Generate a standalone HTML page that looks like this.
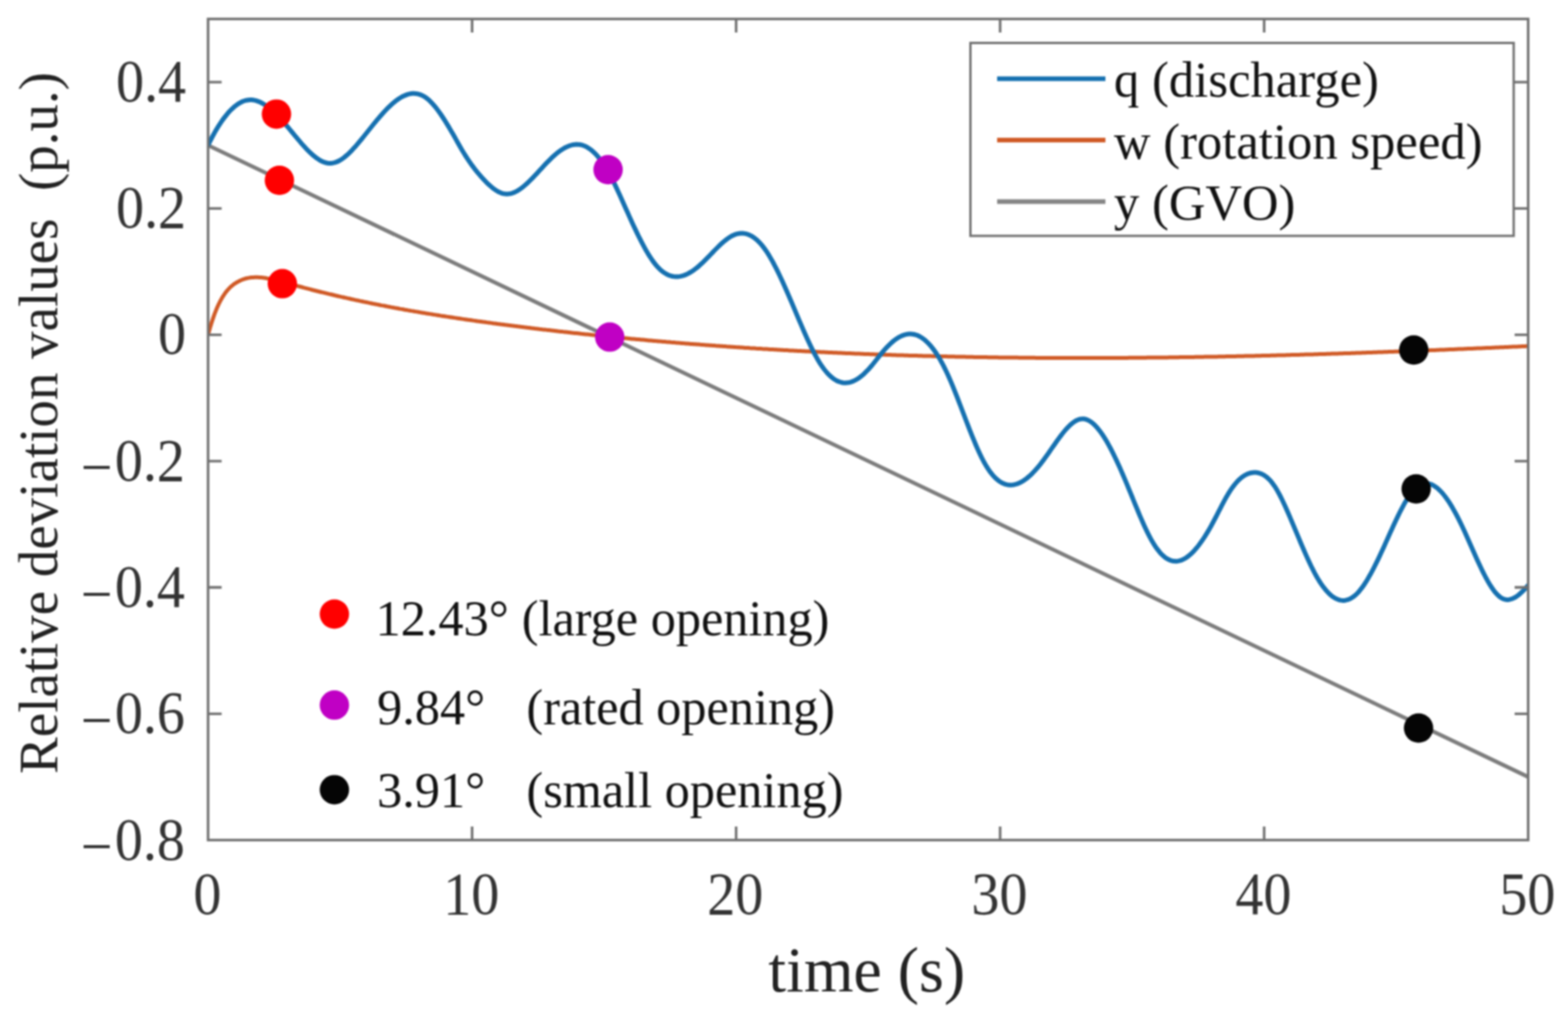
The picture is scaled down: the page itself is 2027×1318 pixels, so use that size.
<!DOCTYPE html><html><head><meta charset="utf-8"><style>html,body{margin:0;padding:0;background:#fff;}svg{display:block;filter:blur(1.1px);}text{font-family:"Liberation Serif","Times New Roman",serif;}</style></head><body>
<svg width="2027" height="1318" viewBox="0 0 2027 1318">
<rect x="0" y="0" width="2027" height="1318" fill="#fff"/>
<defs><clipPath id="ax"><rect x="269.0" y="24.5" width="1706.5" height="1061.0"/></clipPath></defs>
<g clip-path="url(#ax)" fill="none" stroke-linejoin="round" stroke-linecap="round">
<path d="M269.0,187.7 L1975.5,1003.9" stroke="#7d7d7d" stroke-width="5"/>
<path d="M269.3,431.5L271.3,424.3 273.3,417.7 275.3,411.6 277.3,405.9 279.3,400.8 281.3,396.1 283.3,391.8 285.3,387.9 287.3,384.4 289.3,381.3 291.3,378.4 293.3,375.9 295.3,373.6 297.3,371.5 299.3,369.7 301.3,368.1 303.3,366.6 305.3,365.3 307.3,364.2 309.3,363.1 311.3,362.2 313.3,361.3 315.3,360.6 317.3,360.0 319.3,359.5 321.3,359.1 323.3,358.8 325.3,358.5 327.3,358.4 329.3,358.3 331.3,358.2 333.3,358.3 335.3,358.4 337.3,358.6 339.3,358.8 341.3,359.0 343.3,359.3 345.3,359.7 347.3,360.0 349.3,360.4 351.3,360.9 353.3,361.3 355.3,361.8 357.3,362.3 359.3,362.8 361.3,363.3 363.3,363.9 365.3,364.4 367.3,364.9 369.3,365.5 371.3,366.0 373.3,366.5 375.3,367.1 377.3,367.6 379.3,368.2 381.3,368.7 383.3,369.2 385.3,369.8 387.3,370.3 389.3,370.8 391.3,371.3 393.3,371.9 395.3,372.4 397.3,372.9 399.3,373.4 401.3,373.9 403.3,374.5 405.3,375.0 407.3,375.5 409.3,376.0 411.3,376.5 413.3,377.0 415.3,377.5 417.3,377.9 419.3,378.4 421.3,378.9 423.3,379.4 425.3,379.9 427.3,380.3 429.3,380.8 431.3,381.3 433.3,381.8 435.3,382.2 437.3,382.7 439.3,383.1 441.3,383.6 443.3,384.0 445.3,384.5 447.3,384.9 449.3,385.4 451.3,385.8 453.3,386.3 455.3,386.7 457.3,387.1 459.3,387.6 461.3,388.0 463.3,388.4 465.3,388.9 467.3,389.3 469.3,389.7 471.3,390.1 473.3,390.5 475.3,390.9 477.3,391.4 479.3,391.8 481.3,392.2 483.3,392.6 485.3,393.0 487.3,393.4 489.3,393.8 491.3,394.2 493.3,394.6 495.3,394.9 497.3,395.3 499.3,395.7 501.3,396.1 503.3,396.5 505.3,396.9 507.3,397.2 509.3,397.6 511.3,398.0 513.3,398.3 515.3,398.7 517.3,399.1 519.3,399.4 521.3,399.8 523.3,400.2 525.3,400.5 527.3,400.9 529.3,401.2 531.3,401.6 533.3,401.9 535.3,402.3 537.3,402.6 539.3,402.9 541.3,403.3 543.3,403.6 545.3,404.0 547.3,404.3 549.3,404.6 551.3,405.0 553.3,405.3 555.3,405.6 557.3,405.9 559.3,406.3 561.3,406.6 563.3,406.9 565.3,407.2 567.3,407.5 569.3,407.9 571.3,408.2 573.3,408.5 575.3,408.8 577.3,409.1 579.3,409.4 581.3,409.7 583.3,410.0 585.3,410.3 587.3,410.6 589.3,410.9 591.3,411.2 593.3,411.5 595.3,411.8 597.3,412.1 599.3,412.4 601.3,412.7 603.3,413.0 605.3,413.3 607.3,413.5 609.3,413.8 611.3,414.1 613.3,414.4 615.3,414.7 617.3,415.0 619.3,415.2 621.3,415.5 623.3,415.8 625.3,416.1 627.3,416.3 629.3,416.6 631.3,416.9 633.3,417.1 635.3,417.4 637.3,417.7 639.3,417.9 641.3,418.2 643.3,418.5 645.3,418.7 647.3,419.0 649.3,419.2 651.3,419.5 653.3,419.8 655.3,420.0 657.3,420.3 659.3,420.5 661.3,420.8 663.3,421.0 665.3,421.3 667.3,421.5 669.3,421.8 671.3,422.0 673.3,422.3 675.3,422.5 677.3,422.8 679.3,423.0 681.3,423.3 683.3,423.5 685.3,423.7 687.3,424.0 689.3,424.2 691.3,424.5 693.3,424.7 695.3,424.9 697.3,425.2 699.3,425.4 701.3,425.7 703.3,425.9 705.3,426.1 707.3,426.4 709.3,426.6 711.3,426.8 713.3,427.1 715.3,427.3 717.3,427.5 719.3,427.7 721.3,428.0 723.3,428.2 725.3,428.4 727.3,428.6 729.3,428.9 731.3,429.1 733.3,429.3 735.3,429.5 737.3,429.7 739.3,430.0 741.3,430.2 743.3,430.4 745.3,430.6 747.3,430.8 749.3,431.0 751.3,431.3 753.3,431.5 755.3,431.7 757.3,431.9 759.3,432.1 761.3,432.3 763.3,432.5 765.3,432.7 767.3,432.9 769.3,433.1 771.3,433.4 773.3,433.6 775.3,433.8 777.3,434.0 779.3,434.2 781.3,434.4 783.3,434.6 785.3,434.8 787.3,435.0 789.3,435.2 791.3,435.4 793.3,435.6 795.3,435.8 797.3,435.9 799.3,436.1 801.3,436.3 803.3,436.5 805.3,436.7 807.3,436.9 809.3,437.1 811.3,437.3 813.3,437.5 815.3,437.7 817.3,437.9 819.3,438.0 821.3,438.2 823.3,438.4 825.3,438.6 827.3,438.8 829.3,439.0 831.3,439.1 833.3,439.3 835.3,439.5 837.3,439.7 839.3,439.9 841.3,440.0 843.3,440.2 845.3,440.4 847.3,440.6 849.3,440.7 851.3,440.9 853.3,441.1 855.3,441.2 857.3,441.4 859.3,441.6 861.3,441.8 863.3,441.9 865.3,442.1 867.3,442.3 869.3,442.4 871.3,442.6 873.3,442.8 875.3,442.9 877.3,443.1 879.3,443.2 881.3,443.4 883.3,443.6 885.3,443.7 887.3,443.9 889.3,444.0 891.3,444.2 893.3,444.4 895.3,444.5 897.3,444.7 899.3,444.8 901.3,445.0 903.3,445.1 905.3,445.3 907.3,445.4 909.3,445.6 911.3,445.7 913.3,445.9 915.3,446.0 917.3,446.2 919.3,446.3 921.3,446.5 923.3,446.6 925.3,446.8 927.3,446.9 929.3,447.0 931.3,447.2 933.3,447.3 935.3,447.5 937.3,447.6 939.3,447.8 941.3,447.9 943.3,448.0 945.3,448.2 947.3,448.3 949.3,448.4 951.3,448.6 953.3,448.7 955.3,448.8 957.3,449.0 959.3,449.1 961.3,449.2 963.3,449.4 965.3,449.5 967.3,449.6 969.3,449.8 971.3,449.9 973.3,450.0 975.3,450.1 977.3,450.3 979.3,450.4 981.3,450.5 983.3,450.6 985.3,450.8 987.3,450.9 989.3,451.0 991.3,451.1 993.3,451.2 995.3,451.4 997.3,451.5 999.3,451.6 1001.3,451.7 1003.3,451.8 1005.3,452.0 1007.3,452.1 1009.3,452.2 1011.3,452.3 1013.3,452.4 1015.3,452.5 1017.3,452.6 1019.3,452.7 1021.3,452.9 1023.3,453.0 1025.3,453.1 1027.3,453.2 1029.3,453.3 1031.3,453.4 1033.3,453.5 1035.3,453.6 1037.3,453.7 1039.3,453.8 1041.3,453.9 1043.3,454.0 1045.3,454.1 1047.3,454.2 1049.3,454.3 1051.3,454.4 1053.3,454.5 1055.3,454.6 1057.3,454.7 1059.3,454.8 1061.3,454.9 1063.3,455.0 1065.3,455.1 1067.3,455.2 1069.3,455.3 1071.3,455.4 1073.3,455.5 1075.3,455.6 1077.3,455.7 1079.3,455.8 1081.3,455.8 1083.3,455.9 1085.3,456.0 1087.3,456.1 1089.3,456.2 1091.3,456.3 1093.3,456.4 1095.3,456.5 1097.3,456.5 1099.3,456.6 1101.3,456.7 1103.3,456.8 1105.3,456.9 1107.3,457.0 1109.3,457.0 1111.3,457.1 1113.3,457.2 1115.3,457.3 1117.3,457.4 1119.3,457.4 1121.3,457.5 1123.3,457.6 1125.3,457.7 1127.3,457.7 1129.3,457.8 1131.3,457.9 1133.3,458.0 1135.3,458.0 1137.3,458.1 1139.3,458.2 1141.3,458.2 1143.3,458.3 1145.3,458.4 1147.3,458.5 1149.3,458.5 1151.3,458.6 1153.3,458.7 1155.3,458.7 1157.3,458.8 1159.3,458.9 1161.3,458.9 1163.3,459.0 1165.3,459.0 1167.3,459.1 1169.3,459.2 1171.3,459.2 1173.3,459.3 1175.3,459.4 1177.3,459.4 1179.3,459.5 1181.3,459.5 1183.3,459.6 1185.3,459.6 1187.3,459.7 1189.3,459.8 1191.3,459.8 1193.3,459.9 1195.3,459.9 1197.3,460.0 1199.3,460.0 1201.3,460.1 1203.3,460.1 1205.3,460.2 1207.3,460.2 1209.3,460.3 1211.3,460.3 1213.3,460.4 1215.3,460.4 1217.3,460.5 1219.3,460.5 1221.3,460.6 1223.3,460.6 1225.3,460.7 1227.3,460.7 1229.3,460.8 1231.3,460.8 1233.3,460.8 1235.3,460.9 1237.3,460.9 1239.3,461.0 1241.3,461.0 1243.3,461.1 1245.3,461.1 1247.3,461.1 1249.3,461.2 1251.3,461.2 1253.3,461.2 1255.3,461.3 1257.3,461.3 1259.3,461.4 1261.3,461.4 1263.3,461.4 1265.3,461.5 1267.3,461.5 1269.3,461.5 1271.3,461.6 1273.3,461.6 1275.3,461.6 1277.3,461.7 1279.3,461.7 1281.3,461.7 1283.3,461.7 1285.3,461.8 1287.3,461.8 1289.3,461.8 1291.3,461.9 1293.3,461.9 1295.3,461.9 1297.3,461.9 1299.3,462.0 1301.3,462.0 1303.3,462.0 1305.3,462.0 1307.3,462.1 1309.3,462.1 1311.3,462.1 1313.3,462.1 1315.3,462.1 1317.3,462.2 1319.3,462.2 1321.3,462.2 1323.3,462.2 1325.3,462.2 1327.3,462.3 1329.3,462.3 1331.3,462.3 1333.3,462.3 1335.3,462.3 1337.3,462.3 1339.3,462.4 1341.3,462.4 1343.3,462.4 1345.3,462.4 1347.3,462.4 1349.3,462.4 1351.3,462.4 1353.3,462.4 1355.3,462.5 1357.3,462.5 1359.3,462.5 1361.3,462.5 1363.3,462.5 1365.3,462.5 1367.3,462.5 1369.3,462.5 1371.3,462.5 1373.3,462.5 1375.3,462.5 1377.3,462.5 1379.3,462.5 1381.3,462.5 1383.3,462.6 1385.3,462.6 1387.3,462.6 1389.3,462.6 1391.3,462.6 1393.3,462.6 1395.3,462.6 1397.3,462.6 1399.3,462.6 1401.3,462.6 1403.3,462.6 1405.3,462.6 1407.3,462.6 1409.3,462.6 1411.3,462.6 1413.3,462.6 1415.3,462.5 1417.3,462.5 1419.3,462.5 1421.3,462.5 1423.3,462.5 1425.3,462.5 1427.3,462.5 1429.3,462.5 1431.3,462.5 1433.3,462.5 1435.3,462.5 1437.3,462.5 1439.3,462.5 1441.3,462.5 1443.3,462.4 1445.3,462.4 1447.3,462.4 1449.3,462.4 1451.3,462.4 1453.3,462.4 1455.3,462.4 1457.3,462.4 1459.3,462.3 1461.3,462.3 1463.3,462.3 1465.3,462.3 1467.3,462.3 1469.3,462.3 1471.3,462.3 1473.3,462.2 1475.3,462.2 1477.3,462.2 1479.3,462.2 1481.3,462.2 1483.3,462.1 1485.3,462.1 1487.3,462.1 1489.3,462.1 1491.3,462.1 1493.3,462.0 1495.3,462.0 1497.3,462.0 1499.3,462.0 1501.3,462.0 1503.3,461.9 1505.3,461.9 1507.3,461.9 1509.3,461.9 1511.3,461.8 1513.3,461.8 1515.3,461.8 1517.3,461.8 1519.3,461.7 1521.3,461.7 1523.3,461.7 1525.3,461.6 1527.3,461.6 1529.3,461.6 1531.3,461.6 1533.3,461.5 1535.3,461.5 1537.3,461.5 1539.3,461.4 1541.3,461.4 1543.3,461.4 1545.3,461.3 1547.3,461.3 1549.3,461.3 1551.3,461.2 1553.3,461.2 1555.3,461.2 1557.3,461.1 1559.3,461.1 1561.3,461.1 1563.3,461.0 1565.3,461.0 1567.3,461.0 1569.3,460.9 1571.3,460.9 1573.3,460.9 1575.3,460.8 1577.3,460.8 1579.3,460.7 1581.3,460.7 1583.3,460.7 1585.3,460.6 1587.3,460.6 1589.3,460.5 1591.3,460.5 1593.3,460.5 1595.3,460.4 1597.3,460.4 1599.3,460.3 1601.3,460.3 1603.3,460.3 1605.3,460.2 1607.3,460.2 1609.3,460.1 1611.3,460.1 1613.3,460.0 1615.3,460.0 1617.3,459.9 1619.3,459.9 1621.3,459.9 1623.3,459.8 1625.3,459.8 1627.3,459.7 1629.3,459.7 1631.3,459.6 1633.3,459.6 1635.3,459.5 1637.3,459.5 1639.3,459.4 1641.3,459.4 1643.3,459.3 1645.3,459.3 1647.3,459.2 1649.3,459.2 1651.3,459.1 1653.3,459.1 1655.3,459.0 1657.3,459.0 1659.3,458.9 1661.3,458.9 1663.3,458.8 1665.3,458.8 1667.3,458.7 1669.3,458.6 1671.3,458.6 1673.3,458.5 1675.3,458.5 1677.3,458.4 1679.3,458.4 1681.3,458.3 1683.3,458.3 1685.3,458.2 1687.3,458.1 1689.3,458.1 1691.3,458.0 1693.3,458.0 1695.3,457.9 1697.3,457.9 1699.3,457.8 1701.3,457.7 1703.3,457.7 1705.3,457.6 1707.3,457.6 1709.3,457.5 1711.3,457.4 1713.3,457.4 1715.3,457.3 1717.3,457.3 1719.3,457.2 1721.3,457.1 1723.3,457.1 1725.3,457.0 1727.3,456.9 1729.3,456.9 1731.3,456.8 1733.3,456.7 1735.3,456.7 1737.3,456.6 1739.3,456.6 1741.3,456.5 1743.3,456.4 1745.3,456.4 1747.3,456.3 1749.3,456.2 1751.3,456.2 1753.3,456.1 1755.3,456.0 1757.3,456.0 1759.3,455.9 1761.3,455.8 1763.3,455.8 1765.3,455.7 1767.3,455.6 1769.3,455.6 1771.3,455.5 1773.3,455.4 1775.3,455.3 1777.3,455.3 1779.3,455.2 1781.3,455.1 1783.3,455.1 1785.3,455.0 1787.3,454.9 1789.3,454.8 1791.3,454.8 1793.3,454.7 1795.3,454.6 1797.3,454.6 1799.3,454.5 1801.3,454.4 1803.3,454.3 1805.3,454.3 1807.3,454.2 1809.3,454.1 1811.3,454.0 1813.3,454.0 1815.3,453.9 1817.3,453.8 1819.3,453.7 1821.3,453.7 1823.3,453.6 1825.3,453.5 1827.3,453.4 1829.3,453.4 1831.3,453.3 1833.3,453.2 1835.3,453.1 1837.3,453.1 1839.3,453.0 1841.3,452.9 1843.3,452.8 1845.3,452.7 1847.3,452.7 1849.3,452.6 1851.3,452.5 1853.3,452.4 1855.3,452.4 1857.3,452.3 1859.3,452.2 1861.3,452.1 1863.3,452.0 1865.3,452.0 1867.3,451.9 1869.3,451.8 1871.3,451.7 1873.3,451.6 1875.3,451.5 1877.3,451.5 1879.3,451.4 1881.3,451.3 1883.3,451.2 1885.3,451.1 1887.3,451.1 1889.3,451.0 1891.3,450.9 1893.3,450.8 1895.3,450.7 1897.3,450.6 1899.3,450.6 1901.3,450.5 1903.3,450.4 1905.3,450.3 1907.3,450.2 1909.3,450.1 1911.3,450.0 1913.3,450.0 1915.3,449.9 1917.3,449.8 1919.3,449.7 1921.3,449.6 1923.3,449.5 1925.3,449.4 1927.3,449.4 1929.3,449.3 1931.3,449.2 1933.3,449.1 1935.3,449.0 1937.3,448.9 1939.3,448.8 1941.3,448.8 1943.3,448.7 1945.3,448.6 1947.3,448.5 1949.3,448.4 1951.3,448.3 1953.3,448.2 1955.3,448.1 1957.3,448.0 1959.3,448.0 1961.3,447.9 1963.3,447.8 1965.3,447.7 1967.3,447.6 1969.3,447.5 1971.3,447.4 1973.3,447.3 1975.3,447.2 1975.5,447.2" stroke="#d05a26" stroke-width="5"/>
<path d="M269.3,186.8L271.3,182.8 273.3,179.0 275.3,175.2 277.3,171.6 279.3,168.1 281.3,164.8 283.3,161.6 285.3,158.6 287.3,155.6 289.3,152.9 291.3,150.3 293.3,147.8 295.3,145.4 297.3,143.3 299.3,141.2 301.3,139.4 303.3,137.6 305.3,136.1 307.3,134.6 309.3,133.4 311.3,132.3 313.3,131.3 315.3,130.5 317.3,129.9 319.3,129.5 321.3,129.2 323.3,129.0 325.3,129.1 327.3,129.3 329.3,129.6 331.3,130.1 333.3,130.8 335.3,131.6 337.3,132.5 339.3,133.6 341.3,134.8 343.3,136.1 345.3,137.5 347.3,139.0 349.3,140.6 351.3,142.3 353.3,144.1 355.3,146.0 357.3,147.9 359.3,150.0 361.3,152.1 363.3,154.2 365.3,156.4 367.3,158.7 369.3,161.0 371.3,163.3 373.3,165.7 375.3,168.1 377.3,170.5 379.3,172.9 381.3,175.3 383.3,177.7 385.3,180.1 387.3,182.4 389.3,184.8 391.3,187.1 393.3,189.3 395.3,191.5 397.3,193.6 399.3,195.6 401.3,197.5 403.3,199.4 405.3,201.1 407.3,202.7 409.3,204.3 411.3,205.6 413.3,206.9 415.3,208.0 417.3,208.9 419.3,209.7 421.3,210.3 423.3,210.7 425.3,210.9 427.3,211.0 429.3,210.8 431.3,210.4 433.3,209.9 435.3,209.2 437.3,208.2 439.3,207.2 441.3,206.0 443.3,204.6 445.3,203.1 447.3,201.4 449.3,199.7 451.3,197.8 453.3,195.8 455.3,193.8 457.3,191.6 459.3,189.4 461.3,187.1 463.3,184.8 465.3,182.4 467.3,180.0 469.3,177.5 471.3,175.0 473.3,172.5 475.3,170.0 477.3,167.5 479.3,165.0 481.3,162.5 483.3,160.0 485.3,157.6 487.3,155.2 489.3,152.8 491.3,150.5 493.3,148.2 495.3,146.0 497.3,143.8 499.3,141.7 501.3,139.7 503.3,137.7 505.3,135.8 507.3,134.0 509.3,132.3 511.3,130.7 513.3,129.2 515.3,127.8 517.3,126.5 519.3,125.3 521.3,124.3 523.3,123.4 525.3,122.6 527.3,121.9 529.3,121.4 531.3,121.0 533.3,120.8 535.3,120.8 537.3,120.9 539.3,121.2 541.3,121.6 543.3,122.3 545.3,123.1 547.3,124.1 549.3,125.3 551.3,126.7 553.3,128.3 555.3,130.1 557.3,132.1 559.3,134.2 561.3,136.5 563.3,138.9 565.3,141.5 567.3,144.2 569.3,147.0 571.3,150.0 573.3,153.0 575.3,156.1 577.3,159.3 579.3,162.6 581.3,166.0 583.3,169.4 585.3,172.8 587.3,176.3 589.3,179.9 591.3,183.4 593.3,187.0 595.3,190.5 597.3,193.9 599.3,197.2 601.3,200.5 603.3,203.6 605.3,206.6 607.3,209.6 609.3,212.4 611.3,215.1 613.3,217.8 615.3,220.3 617.3,222.8 619.3,225.2 621.3,227.5 623.3,229.8 625.3,231.9 627.3,234.0 629.3,236.1 631.3,238.0 633.3,239.8 635.3,241.5 637.3,243.2 639.3,244.6 641.3,246.0 643.3,247.2 645.3,248.2 647.3,249.1 649.3,249.8 651.3,250.3 653.3,250.6 655.3,250.7 657.3,250.6 659.3,250.3 661.3,249.8 663.3,249.2 665.3,248.4 667.3,247.4 669.3,246.3 671.3,245.0 673.3,243.6 675.3,242.1 677.3,240.5 679.3,238.8 681.3,237.0 683.3,235.1 685.3,233.2 687.3,231.2 689.3,229.1 691.3,227.0 693.3,224.9 695.3,222.7 697.3,220.5 699.3,218.4 701.3,216.2 703.3,214.0 705.3,211.9 707.3,209.8 709.3,207.8 711.3,205.8 713.3,203.8 715.3,202.0 717.3,200.2 719.3,198.5 721.3,196.9 723.3,195.4 725.3,194.0 727.3,192.7 729.3,191.5 731.3,190.4 733.3,189.5 735.3,188.7 737.3,188.0 739.3,187.4 741.3,187.0 743.3,186.7 745.3,186.6 747.3,186.7 749.3,186.8 751.3,187.2 753.3,187.7 755.3,188.5 757.3,189.3 759.3,190.4 761.3,191.7 763.3,193.1 765.3,194.7 767.3,196.5 769.3,198.4 771.3,200.5 773.3,202.8 775.3,205.3 777.3,207.9 779.3,210.7 781.3,213.6 783.3,216.8 785.3,220.1 787.3,223.7 789.3,227.4 791.3,231.2 793.3,235.2 795.3,239.4 797.3,243.6 799.3,247.9 801.3,252.3 803.3,256.8 805.3,261.2 807.3,265.7 809.3,270.2 811.3,274.6 813.3,279.1 815.3,283.5 817.3,287.9 819.3,292.2 821.3,296.4 823.3,300.6 825.3,304.7 827.3,308.7 829.3,312.6 831.3,316.4 833.3,320.1 835.3,323.7 837.3,327.1 839.3,330.3 841.3,333.4 843.3,336.4 845.3,339.1 847.3,341.7 849.3,344.0 851.3,346.2 853.3,348.2 855.3,349.9 857.3,351.5 859.3,352.8 861.3,354.0 863.3,355.0 865.3,355.9 867.3,356.5 869.3,357.0 871.3,357.3 873.3,357.5 875.3,357.5 877.3,357.4 879.3,357.1 881.3,356.6 883.3,356.1 885.3,355.4 887.3,354.6 889.3,353.6 891.3,352.5 893.3,351.4 895.3,350.1 897.3,348.7 899.3,347.2 901.3,345.6 903.3,343.9 905.3,342.1 907.3,340.3 909.3,338.4 911.3,336.4 913.3,334.4 915.3,332.3 917.3,330.3 919.3,328.2 921.3,326.1 923.3,324.0 925.3,322.0 927.3,320.0 929.3,318.0 931.3,316.1 933.3,314.3 935.3,312.5 937.3,310.9 939.3,309.3 941.3,307.9 943.3,306.5 945.3,305.3 947.3,304.3 949.3,303.4 951.3,302.7 953.3,302.1 955.3,301.7 957.3,301.5 959.3,301.5 961.3,301.6 963.3,301.9 965.3,302.4 967.3,303.0 969.3,303.9 971.3,304.9 973.3,306.1 975.3,307.5 977.3,309.1 979.3,310.8 981.3,312.8 983.3,315.0 985.3,317.3 987.3,319.9 989.3,322.6 991.3,325.5 993.3,328.7 995.3,332.0 997.3,335.4 999.3,339.0 1001.3,342.8 1003.3,346.7 1005.3,350.7 1007.3,354.8 1009.3,359.0 1011.3,363.3 1013.3,367.7 1015.3,372.2 1017.3,376.8 1019.3,381.4 1021.3,386.0 1023.3,390.7 1025.3,395.4 1027.3,400.1 1029.3,404.8 1031.3,409.6 1033.3,414.3 1035.3,418.9 1037.3,423.6 1039.3,428.2 1041.3,432.7 1043.3,437.2 1045.3,441.5 1047.3,445.8 1049.3,449.9 1051.3,453.9 1053.3,457.8 1055.3,461.4 1057.3,464.9 1059.3,468.3 1061.3,471.4 1063.3,474.3 1065.3,477.0 1067.3,479.5 1069.3,481.9 1071.3,484.0 1073.3,485.9 1075.3,487.6 1077.3,489.2 1079.3,490.5 1081.3,491.7 1083.3,492.7 1085.3,493.4 1087.3,494.0 1089.3,494.5 1091.3,494.7 1093.3,494.7 1095.3,494.6 1097.3,494.3 1099.3,493.8 1101.3,493.2 1103.3,492.4 1105.3,491.4 1107.3,490.3 1109.3,489.1 1111.3,487.7 1113.3,486.1 1115.3,484.5 1117.3,482.7 1119.3,480.7 1121.3,478.7 1123.3,476.6 1125.3,474.3 1127.3,472.0 1129.3,469.5 1131.3,467.0 1133.3,464.5 1135.3,461.9 1137.3,459.4 1139.3,456.9 1141.3,454.5 1143.3,452.1 1145.3,449.9 1147.3,447.8 1149.3,445.8 1151.3,443.9 1153.3,442.1 1155.3,440.4 1157.3,438.9 1159.3,437.5 1161.3,436.2 1163.3,435.1 1165.3,434.1 1167.3,433.3 1169.3,432.6 1171.3,432.1 1173.3,431.7 1175.3,431.6 1177.3,431.5 1179.3,431.7 1181.3,432.0 1183.3,432.5 1185.3,433.1 1187.3,434.0 1189.3,435.0 1191.3,436.2 1193.3,437.6 1195.3,439.1 1197.3,440.9 1199.3,442.8 1201.3,444.9 1203.3,447.1 1205.3,449.6 1207.3,452.2 1209.3,455.0 1211.3,458.1 1213.3,461.2 1215.3,464.6 1217.3,468.2 1219.3,471.9 1221.3,475.9 1223.3,480.0 1225.3,484.3 1227.3,488.8 1229.3,493.4 1231.3,498.2 1233.3,503.1 1235.3,508.1 1237.3,513.2 1239.3,518.3 1241.3,523.5 1243.3,528.8 1245.3,534.0 1247.3,539.3 1249.3,544.5 1251.3,549.7 1253.3,554.8 1255.3,559.9 1257.3,564.9 1259.3,569.7 1261.3,574.5 1263.3,579.1 1265.3,583.5 1267.3,587.8 1269.3,591.9 1271.3,595.7 1273.3,599.3 1275.3,602.7 1277.3,605.9 1279.3,608.8 1281.3,611.4 1283.3,613.9 1285.3,616.1 1287.3,618.1 1289.3,619.8 1291.3,621.4 1293.3,622.7 1295.3,623.9 1297.3,624.8 1299.3,625.6 1301.3,626.1 1303.3,626.5 1305.3,626.7 1307.3,626.7 1309.3,626.5 1311.3,626.2 1313.3,625.7 1315.3,625.1 1317.3,624.2 1319.3,623.3 1321.3,622.2 1323.3,620.9 1325.3,619.6 1327.3,618.1 1329.3,616.4 1331.3,614.7 1333.3,612.8 1335.3,610.8 1337.3,608.7 1339.3,606.5 1341.3,604.2 1343.3,601.8 1345.3,599.3 1347.3,596.7 1349.3,594.1 1351.3,591.3 1353.3,588.5 1355.3,585.7 1357.3,582.8 1359.3,579.9 1361.3,577.0 1363.3,574.2 1365.3,571.3 1367.3,568.5 1369.3,565.8 1371.3,563.1 1373.3,560.5 1375.3,558.0 1377.3,555.6 1379.3,553.4 1381.3,551.3 1383.3,549.3 1385.3,547.6 1387.3,546.0 1389.3,544.6 1391.3,543.4 1393.3,542.5 1395.3,541.8 1397.3,541.4 1399.3,541.2 1401.3,541.3 1403.3,541.7 1405.3,542.4 1407.3,543.3 1409.3,544.5 1411.3,545.9 1413.3,547.5 1415.3,549.4 1417.3,551.5 1419.3,553.8 1421.3,556.3 1423.3,559.0 1425.3,561.8 1427.3,564.9 1429.3,568.1 1431.3,571.5 1433.3,575.1 1435.3,578.8 1437.3,582.6 1439.3,586.6 1441.3,590.7 1443.3,594.9 1445.3,599.2 1447.3,603.6 1449.3,608.1 1451.3,612.7 1453.3,617.4 1455.3,622.1 1457.3,626.9 1459.3,631.8 1461.3,636.6 1463.3,641.5 1465.3,646.5 1467.3,651.3 1469.3,656.2 1471.3,661.0 1473.3,665.8 1475.3,670.4 1477.3,675.0 1479.3,679.4 1481.3,683.7 1483.3,687.9 1485.3,691.8 1487.3,695.6 1489.3,699.2 1491.3,702.6 1493.3,705.7 1495.3,708.6 1497.3,711.2 1499.3,713.7 1501.3,715.9 1503.3,717.8 1505.3,719.6 1507.3,721.1 1509.3,722.3 1511.3,723.3 1513.3,724.1 1515.3,724.7 1517.3,725.1 1519.3,725.2 1521.3,725.2 1523.3,724.9 1525.3,724.4 1527.3,723.8 1529.3,722.9 1531.3,721.9 1533.3,720.7 1535.3,719.3 1537.3,717.7 1539.3,716.0 1541.3,714.1 1543.3,712.1 1545.3,709.8 1547.3,707.5 1549.3,705.0 1551.3,702.3 1553.3,699.5 1555.3,696.6 1557.3,693.6 1559.3,690.4 1561.3,687.1 1563.3,683.7 1565.3,680.2 1567.3,676.5 1569.3,672.8 1571.3,669.0 1573.3,665.1 1575.3,661.2 1577.3,657.3 1579.3,653.4 1581.3,649.6 1583.3,645.9 1585.3,642.3 1587.3,638.9 1589.3,635.7 1591.3,632.6 1593.3,629.8 1595.3,627.1 1597.3,624.7 1599.3,622.4 1601.3,620.3 1603.3,618.5 1605.3,616.8 1607.3,615.4 1609.3,614.1 1611.3,613.1 1613.3,612.2 1615.3,611.5 1617.3,611.0 1619.3,610.7 1621.3,610.5 1623.3,610.6 1625.3,610.8 1627.3,611.2 1629.3,611.8 1631.3,612.6 1633.3,613.6 1635.3,614.9 1637.3,616.4 1639.3,618.1 1641.3,620.1 1643.3,622.3 1645.3,624.9 1647.3,627.7 1649.3,630.7 1651.3,634.1 1653.3,637.7 1655.3,641.5 1657.3,645.5 1659.3,649.7 1661.3,654.0 1663.3,658.5 1665.3,663.0 1667.3,667.6 1669.3,672.3 1671.3,677.1 1673.3,681.9 1675.3,686.7 1677.3,691.4 1679.3,696.2 1681.3,701.0 1683.3,705.7 1685.3,710.3 1687.3,714.9 1689.3,719.4 1691.3,723.8 1693.3,728.1 1695.3,732.2 1697.3,736.2 1699.3,740.1 1701.3,743.7 1703.3,747.2 1705.3,750.5 1707.3,753.6 1709.3,756.5 1711.3,759.2 1713.3,761.7 1715.3,764.0 1717.3,766.1 1719.3,768.1 1721.3,769.8 1723.3,771.3 1725.3,772.6 1727.3,773.6 1729.3,774.5 1731.3,775.2 1733.3,775.6 1735.3,775.9 1737.3,775.9 1739.3,775.7 1741.3,775.2 1743.3,774.6 1745.3,773.7 1747.3,772.6 1749.3,771.3 1751.3,769.7 1753.3,768.0 1755.3,766.0 1757.3,763.7 1759.3,761.2 1761.3,758.6 1763.3,755.7 1765.3,752.7 1767.3,749.5 1769.3,746.1 1771.3,742.6 1773.3,738.9 1775.3,735.1 1777.3,731.2 1779.3,727.2 1781.3,723.1 1783.3,718.9 1785.3,714.6 1787.3,710.3 1789.3,705.9 1791.3,701.4 1793.3,697.0 1795.3,692.5 1797.3,688.1 1799.3,683.7 1801.3,679.3 1803.3,675.0 1805.3,670.7 1807.3,666.6 1809.3,662.5 1811.3,658.6 1813.3,654.8 1815.3,651.1 1817.3,647.7 1819.3,644.4 1821.3,641.3 1823.3,638.5 1825.3,635.9 1827.3,633.5 1829.3,631.4 1831.3,629.6 1833.3,628.1 1835.3,626.9 1837.3,625.9 1839.3,625.2 1841.3,624.8 1843.3,624.6 1845.3,624.7 1847.3,625.0 1849.3,625.6 1851.3,626.4 1853.3,627.4 1855.3,628.7 1857.3,630.1 1859.3,631.8 1861.3,633.7 1863.3,635.8 1865.3,638.0 1867.3,640.5 1869.3,643.1 1871.3,646.0 1873.3,648.9 1875.3,652.1 1877.3,655.4 1879.3,658.9 1881.3,662.5 1883.3,666.2 1885.3,670.1 1887.3,674.1 1889.3,678.3 1891.3,682.5 1893.3,686.8 1895.3,691.3 1897.3,695.7 1899.3,700.2 1901.3,704.7 1903.3,709.3 1905.3,713.8 1907.3,718.2 1909.3,722.7 1911.3,727.0 1913.3,731.3 1915.3,735.5 1917.3,739.6 1919.3,743.5 1921.3,747.3 1923.3,750.9 1925.3,754.3 1927.3,757.5 1929.3,760.5 1931.3,763.3 1933.3,765.8 1935.3,768.0 1937.3,769.9 1939.3,771.6 1941.3,772.9 1943.3,773.9 1945.3,774.5 1947.3,774.9 1949.3,774.9 1951.3,774.7 1953.3,774.2 1955.3,773.5 1957.3,772.6 1959.3,771.5 1961.3,770.1 1963.3,768.6 1965.3,766.9 1967.3,765.0 1969.3,763.1 1971.3,761.0 1973.3,758.7 1975.0,756.8" stroke="#1570b0" stroke-width="6"/>
</g>
<g stroke="#707070" stroke-width="3.3" fill="none">
<rect x="269.0" y="24.5" width="1706.5" height="1061.0"/>
<path d="M610.3,1085.5V1068.0M610.3,24.5V42.0"/>
<path d="M951.6,1085.5V1068.0M951.6,24.5V42.0"/>
<path d="M1292.9,1085.5V1068.0M1292.9,24.5V42.0"/>
<path d="M1634.2,1085.5V1068.0M1634.2,24.5V42.0"/>
<path d="M269.0,106.1H286.5M1975.5,106.1H1958.0"/>
<path d="M269.0,269.3H286.5M1975.5,269.3H1958.0"/>
<path d="M269.0,432.6H286.5M1975.5,432.6H1958.0"/>
<path d="M269.0,595.8H286.5M1975.5,595.8H1958.0"/>
<path d="M269.0,759.0H286.5M1975.5,759.0H1958.0"/>
<path d="M269.0,922.3H286.5M1975.5,922.3H1958.0"/>
</g>
<g fill="#333333" font-size="72.5">
<text transform="translate(268.0,1180.5) scale(1,1.08)" text-anchor="middle">0</text>
<text transform="translate(609.3,1180.5) scale(1,1.08)" text-anchor="middle">10</text>
<text transform="translate(950.6,1180.5) scale(1,1.08)" text-anchor="middle">20</text>
<text transform="translate(1291.9,1180.5) scale(1,1.08)" text-anchor="middle">30</text>
<text transform="translate(1633.2,1180.5) scale(1,1.08)" text-anchor="middle">40</text>
<text transform="translate(1974.5,1180.5) scale(1,1.08)" text-anchor="middle">50</text>
<text transform="translate(240.5,130.6) scale(1,1.08)" text-anchor="end">0.4</text>
<text transform="translate(240.5,293.8) scale(1,1.08)" text-anchor="end">0.2</text>
<text transform="translate(240.5,457.1) scale(1,1.08)" text-anchor="end">0</text>
<text transform="translate(239.0,620.8) scale(1,1.08)" text-anchor="end">0.2</text>
<text transform="translate(104.5,630.3) scale(1,1.08)">−</text>
<text transform="translate(239.0,784.0) scale(1,1.08)" text-anchor="end">0.4</text>
<text transform="translate(104.5,793.5) scale(1,1.08)">−</text>
<text transform="translate(239.0,947.3) scale(1,1.08)" text-anchor="end">0.6</text>
<text transform="translate(104.5,956.8) scale(1,1.08)">−</text>
<text transform="translate(239.0,1110.5) scale(1,1.08)" text-anchor="end">0.8</text>
<text transform="translate(104.5,1120.0) scale(1,1.08)">−</text>
</g>
<text x="1120.5" y="1281" font-size="82.5" fill="#222222" text-anchor="middle">time (s)</text>
<text transform="translate(74,546.5) rotate(-90)" font-size="71" fill="#222222" text-anchor="middle" xml:space="preserve">Relative deviation values  (p.u.)</text>
<rect x="1254.5" y="55.5" width="702.3" height="249.3" fill="#fff" stroke="#707070" stroke-width="3"/>
<path d="M1289,101.7H1429" stroke="#1570b0" stroke-width="6"/>
<text x="1440" y="125.2" font-size="65.5" fill="#111">q (discharge)</text>
<path d="M1289,181.0H1429" stroke="#d05a26" stroke-width="6"/>
<text x="1440" y="204.5" font-size="65.5" fill="#111">w (rotation speed)</text>
<path d="M1289,260.5H1429" stroke="#858585" stroke-width="6"/>
<text x="1440" y="284.0" font-size="65.5" fill="#111">y (GVO)</text>
<circle cx="357.4" cy="147.4" r="19" fill="#ff0000"/>
<circle cx="361.2" cy="233.0" r="19" fill="#ff0000"/>
<circle cx="365.0" cy="366.6" r="19" fill="#ff0000"/>
<circle cx="786.1" cy="219.2" r="19" fill="#c000c4"/>
<circle cx="788.2" cy="435.6" r="19" fill="#c000c4"/>
<circle cx="1827.6" cy="452.3" r="19" fill="#050505"/>
<circle cx="1830.7" cy="631.8" r="19" fill="#050505"/>
<circle cx="1833.8" cy="940.7" r="19" fill="#050505"/>
<circle cx="432.3" cy="793.5" r="19" fill="#ff0000"/>
<circle cx="432.3" cy="911.1" r="19" fill="#c000c4"/>
<circle cx="432.3" cy="1020.4" r="19" fill="#050505"/>
<g font-size="65" fill="#111">
<text x="485.5" y="820.5">12.43°</text><text x="674.5" y="820.5">(large opening)</text>
<text x="487.5" y="935.8">9.84°</text><text x="680.5" y="935.8">(rated opening)</text>
<text x="487.5" y="1042.8">3.91°</text><text x="680.5" y="1042.8">(small opening)</text>
</g>
</svg></body></html>
